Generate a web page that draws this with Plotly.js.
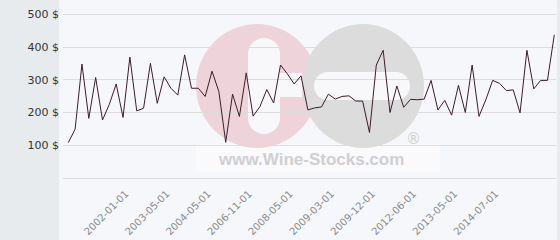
<!DOCTYPE html>
<html>
<head>
<meta charset="utf-8">
<script src="https://cdn.plot.ly/plotly-3.0.1.min.js"></script>
<style>html,body{margin:0;padding:0;background:#e7ebee;}#chart{width:560px;height:240px;}</style>
</head>
<body>
<div id="chart"></div>
<script>
// Price series (USD), in chronological order
const prices = [108, 149, 348, 182, 307, 177, 225, 287, 185, 369,
  205, 213, 350, 228, 309, 274, 253, 376, 274, 274,
  249, 326, 264, 109, 256, 188, 321, 189, 218, 270,
  229, 345, 318, 287, 312, 208, 214, 217, 256, 241,
  249, 251, 235, 235, 139, 345, 390, 200, 281, 216,
  240, 239, 241, 298, 208, 237, 192, 283, 200, 345,
  188, 239, 298, 289, 267, 269, 199, 390, 272, 298,
  298, 437];
// Dates shown on the x axis (one label every sixth observation)
const tickLabels = ['2002-01-01', '2003-05-01', '2004-05-01', '2006-11-01', '2008-05-01',
  '2009-03-01', '2009-12-01', '2012-06-01', '2013-05-01', '2014-07-01'];
const yTicks = [100, 200, 300, 400, 500];
const yTickText = ['100 $', '200 $', '300 $', '400 $', '500 $'];

const firstTick = 8.4, tickStep = 6;
const xIdx = prices.map((v, i) => i);

const W = 493, H = 178, L = 63;
function px(x) { return (x - L) / W; }
function py(y) { return (H - y) / H; }

const WHITE = '#f8f8fa';
const shapes = [
  {type: 'rect', xref: 'paper', yref: 'paper', x0: px(59), x1: px(557), y0: -62 / H, y1: 1,
   fillcolor: '#f6f7fa', line: {width: 0}, layer: 'below'},
  {type: 'rect', xref: 'paper', yref: 'paper', x0: px(196), x1: px(440), y0: py(172), y1: py(144),
   fillcolor: '#fafafc', line: {width: 0}, layer: 'below'},
  {type: 'circle', xref: 'paper', yref: 'paper', xsizemode: 'pixel', ysizemode: 'pixel',
   xanchor: px(257), yanchor: py(86), x0: -61, x1: 61, y0: -62, y1: 62,
   fillcolor: '#eed3da', line: {width: 0}, layer: 'below'},
  {type: 'circle', xref: 'paper', yref: 'paper', xsizemode: 'pixel', ysizemode: 'pixel',
   xanchor: px(363), yanchor: py(86), x0: -61, x1: 61, y0: -62, y1: 62,
   fillcolor: '#dcdcdd', line: {width: 0}, layer: 'below'},
  // white vertical bar in the red disc (rounded ends)
  {type: 'rect', xref: 'paper', yref: 'paper', xsizemode: 'pixel', ysizemode: 'pixel',
   xanchor: px(264), yanchor: py(86), x0: -16, x1: 16, y0: -32, y1: 32,
   fillcolor: WHITE, line: {width: 0}, layer: 'below'},
  {type: 'circle', xref: 'paper', yref: 'paper', xsizemode: 'pixel', ysizemode: 'pixel',
   xanchor: px(264), yanchor: py(54), x0: -16, x1: 16, y0: -16, y1: 16,
   fillcolor: WHITE, line: {width: 0}, layer: 'below'},
  {type: 'circle', xref: 'paper', yref: 'paper', xsizemode: 'pixel', ysizemode: 'pixel',
   xanchor: px(264), yanchor: py(118), x0: -16, x1: 16, y0: -16, y1: 16,
   fillcolor: WHITE, line: {width: 0}, layer: 'below'},
  // white bar linking into the grey disc
  {type: 'rect', xref: 'paper', yref: 'paper', xsizemode: 'pixel', ysizemode: 'pixel',
   xanchor: px(290), yanchor: py(85), x0: -26, x1: 12, y0: -12, y1: 12,
   fillcolor: WHITE, line: {width: 0}, layer: 'below'},
  // white pill in the grey disc
  {type: 'rect', xref: 'paper', yref: 'paper', xsizemode: 'pixel', ysizemode: 'pixel',
   xanchor: px(362), yanchor: py(86), x0: -34, x1: 34, y0: -14, y1: 14,
   fillcolor: WHITE, line: {width: 0}, layer: 'below'},
  {type: 'circle', xref: 'paper', yref: 'paper', xsizemode: 'pixel', ysizemode: 'pixel',
   xanchor: px(328), yanchor: py(86), x0: -14, x1: 14, y0: -14, y1: 14,
   fillcolor: WHITE, line: {width: 0}, layer: 'below'},
  {type: 'circle', xref: 'paper', yref: 'paper', xsizemode: 'pixel', ysizemode: 'pixel',
   xanchor: px(396), yanchor: py(86), x0: -14, x1: 14, y0: -14, y1: 14,
   fillcolor: WHITE, line: {width: 0}, layer: 'below'}
];

const annotations = [
  {xref: 'paper', yref: 'paper', x: px(311), y: py(159), text: 'www.Wine-Stocks.com', showarrow: false,
   font: {family: 'Liberation Sans, Arial, sans-serif', size: 17, color: '#cfcfd1', weight: 'bold'},
   xanchor: 'center', yanchor: 'middle'},
  {xref: 'paper', yref: 'paper', x: px(413), y: py(139), text: '®', showarrow: false,
   font: {family: 'DejaVu Sans, sans-serif', size: 15, color: '#cfcfd1'},
   xanchor: 'center', yanchor: 'middle'}
];

const trace = {
  x: xIdx, y: prices, type: 'scatter', mode: 'lines',
  line: {color: '#3b1d2b', width: 1}, hoverinfo: 'skip'
};

const layout = {
  width: 560, height: 240,
  margin: {l: L, r: 560 - L - W, t: 0, b: 240 - H, pad: 0},
  paper_bgcolor: '#e7ebee', plot_bgcolor: '#f6f7fa',
  showlegend: false,
  font: {family: 'DejaVu Sans, sans-serif'},
  xaxis: {
    type: 'linear', range: [-0.77, 71.25],
    tickvals: tickLabels.map((t, k) => firstTick + tickStep * k), ticktext: tickLabels,
    tickangle: -45, tickfont: {size: 10, color: '#8a8a8a'},
    showgrid: false, zeroline: false, showline: true, linecolor: '#dcdcdc', linewidth: 1,
    ticks: '', ticklabelstandoff: 5, fixedrange: true
  },
  yaxis: {
    range: [0, 543.5], tickvals: yTicks, ticktext: yTickText,
    tickfont: {size: 11, color: '#333333'},
    showgrid: true, gridcolor: '#dcdcdc', gridwidth: 1, zeroline: false, showline: false,
    ticks: '', ticklabelstandoff: 3, fixedrange: true
  },
  shapes: shapes, annotations: annotations
};

Plotly.newPlot('chart', [trace], layout, {staticPlot: true, displayModeBar: false});
</script>
</body>
</html>
